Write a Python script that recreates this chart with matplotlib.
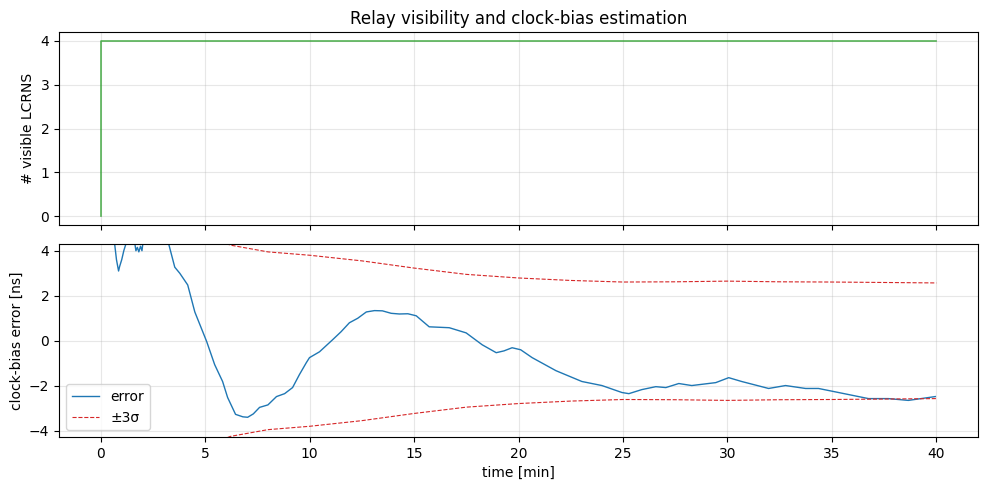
import numpy as np
import matplotlib
matplotlib.use("Agg")
import matplotlib.pyplot as plt

# visible relays over time
vis_t = [0.0, 0.0, 40.0]
vis_n = [0, 4, 4]

# clock-bias error [ns] vs time [min]
err_t = [0.0, 0.4, 0.65, 0.75, 0.85, 0.9, 1.0, 1.1, 1.3, 1.6, 1.68, 1.75, 1.82, 1.9,
         1.97, 2.05, 2.5, 3.0, 3.25, 3.54, 3.78, 4.16, 4.5, 5.07, 5.45, 5.83, 6.07,
         6.45, 6.8, 7.03, 7.3, 7.6, 8.0, 8.41, 8.8, 9.18, 9.51, 9.84, 9.99, 10.47,
         11.09, 11.5, 11.9, 12.3, 12.71, 13.1, 13.48, 13.9, 14.29, 14.7, 15.1, 15.72,
         16.2, 16.68, 17.49, 18.26, 18.93, 19.3, 19.69, 20.1, 20.65, 21.79, 23.03,
         23.99, 24.95, 25.28, 25.9, 26.57, 27.05, 27.67, 28.29, 29.44, 30.06, 30.68,
         31.97, 32.78, 33.74, 34.36, 35.32, 36.75, 37.7, 38.66, 39.95]
err_v = [9.0, 6.0, 4.4, 3.6, 3.1, 3.3, 3.6, 4.0, 4.6, 4.5, 4.0, 4.15, 3.95, 4.2,
         4.0, 4.6, 5.2, 5.0, 4.3, 3.27, 3.0, 2.48, 1.28, -0.04, -1.06, -1.81, -2.52,
         -3.27, -3.38, -3.4, -3.25, -2.96, -2.85, -2.48, -2.35, -2.08, -1.5, -0.97,
         -0.75, -0.49, 0.04, 0.4, 0.8, 1.0, 1.28, 1.34, 1.33, 1.22, 1.19, 1.2, 1.11,
         0.62, 0.6, 0.58, 0.35, -0.18, -0.53, -0.45, -0.31, -0.4, -0.75, -1.33,
         -1.81, -1.99, -2.3, -2.35, -2.17, -2.04, -2.08, -1.9, -1.99, -1.86, -1.64,
         -1.81, -2.12, -1.99, -2.12, -2.12, -2.3, -2.57, -2.57, -2.65, -2.48]

# 3-sigma envelope [ns]
sig_t = [0.0, 1.0, 2.0, 3.0, 4.0, 5.0, 6.2, 8.0, 10.0, 12.5, 15.0, 17.5, 20.0,
         22.5, 25.0, 27.5, 30.0, 32.5, 35.0, 37.5, 40.0]
sig_v = [12.0, 9.0, 7.2, 6.0, 5.3, 4.7, 4.25, 3.95, 3.8, 3.55, 3.23, 2.95, 2.79,
         2.68, 2.61, 2.62, 2.65, 2.62, 2.61, 2.59, 2.57]

fig, (ax1, ax2) = plt.subplots(2, 1, figsize=(9.89, 4.9), sharex=True)
fig.subplots_adjust(left=0.0597, right=0.989, top=0.9347, bottom=0.108, hspace=0.098)

ax1.plot(vis_t, vis_n, color="tab:green", lw=1.2, alpha=0.8)
ax1.set_ylabel("# visible LCRNS")
ax1.set_title("Relay visibility and clock-bias estimation")
ax1.grid(True, alpha=0.3)

sig = np.array(sig_v)
ax2.plot(err_t, err_v, color="tab:blue", lw=1, label="error")
ax2.plot(sig_t, sig, color="tab:red", lw=0.8, ls="--", label="±3σ")
ax2.plot(sig_t, -sig, color="tab:red", lw=0.8, ls="--")
ax2.set_ylim(-4.28, 4.3)
ax2.set_ylabel("clock-bias error [ns]")
ax2.set_xlabel("time [min]")
ax2.grid(True, alpha=0.3)
ax2.legend(loc="lower left")

fig.savefig("out.png", dpi=100)
